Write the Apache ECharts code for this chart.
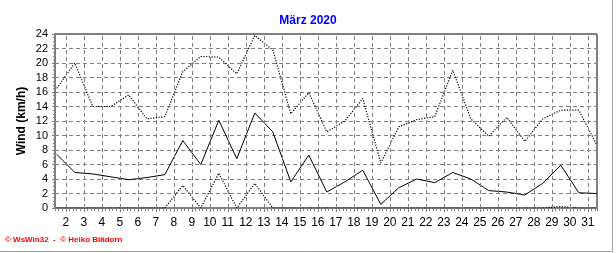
<!DOCTYPE html>
<html><head><meta charset="utf-8">
<script src="https://cdn.jsdelivr.net/npm/echarts@6/dist/echarts.min.js"></script>
<style>html,body{margin:0;padding:0;background:#fff}#c{width:616px;height:253px}</style>
</head><body><div id="c"></div>
<script>
const days = [1,2,3,4,5,6,7,8,9,10,11,12,13,14,15,16,17,18,19,20,21,22,23,24,25,26,27,28,29,30,31];
const dayTickLabels = [2,3,4,5,6,7,8,9,10,11,12,13,14,15,16,17,18,19,20,21,22,23,24,25,26,27,28,29,30,31];
const maxWind = [16.5,20.0,14.0,14.0,15.6,12.3,12.6,18.8,20.9,20.8,18.5,23.8,21.8,13.0,15.9,10.5,12.0,15.1,6.2,11.2,12.2,12.6,19.0,12.3,9.9,12.5,9.2,12.3,13.5,13.5,8.7];
const meanWind = [7.4,4.9,4.7,4.3,3.9,4.2,4.6,9.3,6.0,12.1,6.8,13.1,10.5,3.6,7.3,2.2,3.6,5.2,0.5,2.8,4.0,3.5,4.9,4.0,2.4,2.2,1.8,3.4,5.9,2.1,2.0];
const minWind = [0,0,0,0,0,0,0,3.1,0,4.8,0,3.4,0,0,0,0,0,0,0,0,0,0,0,0,0,0,0,0,0.2,0,0];
const titleText = 'März 2020';
const yAxisName = 'Wind (km/h)';
const footerText = '\u00a9 WsWin32  -  \u00a9 Heiko Blädorn';

const FONT = '"Liberation Sans", Arial, sans-serif';
const GRAY = '#808080';
const chart = echarts.init(document.getElementById('c'), null, {renderer: 'canvas'});
const xMin = 1.4, xMax = 1.4 + 542 / 18;
const pts = arr => arr.map((v, i) => [days[i] + 0.5, v]);
const dotted = {color: '#000', width: 1.2, type: [1.2, 1.5]};

const option = {
  animation: false,
  title: {text: titleText, left: 'center', top: 10, textStyle: {color: '#0000ff', fontSize: 12, fontWeight: 'bold', fontFamily: FONT}},
  grid: {left: 55, top: 34, width: 542, height: 174, show: true, borderColor: '#000', borderWidth: 1, backgroundColor: 'transparent'},
  xAxis: [
    {type: 'value', min: xMin, max: xMax, interval: 0.2, position: 'bottom',
     axisLine: {lineStyle: {color: GRAY, width: 2}},
     axisTick: {length: 3, lineStyle: {color: GRAY}},
     axisLabel: {show: false}, splitLine: {show: false}},
    {type: 'value', min: xMin, max: xMax, position: 'bottom',
     axisLine: {show: false},
     axisTick: {show: true, customValues: dayTickLabels, length: 4, lineStyle: {color: GRAY}},
     axisLabel: {customValues: dayTickLabels, color: '#000', fontSize: 12, fontFamily: FONT, margin: 9},
     splitLine: {show: false}}
  ],
  yAxis: {type: 'value', min: 0, max: 24, interval: 2,
    name: yAxisName, nameLocation: 'middle', nameGap: 27, nameRotate: 90, nameMoveOverlap: false,
    nameTextStyle: {color: '#000', fontSize: 12, fontWeight: 'bold', fontFamily: FONT},
    axisLine: {show: true, lineStyle: {color: GRAY, width: 2}},
    axisTick: {show: true, length: 3, lineStyle: {color: GRAY}},
    minorTick: {show: true, splitNumber: 4, length: 2, lineStyle: {color: GRAY}},
    axisLabel: {color: '#000', fontSize: 11, fontFamily: FONT, margin: 7},
    splitLine: {show: true, lineStyle: {color: GRAY, type: [4, 3], width: 1}}},
  series: [
    {type: 'line', name: 'grid', data: [], xAxisIndex: 0, z: 1, silent: true,
     markLine: {silent: true, symbol: 'none', label: {show: false}, animation: false,
       lineStyle: {color: GRAY, type: [4, 3], width: 1},
       data: dayTickLabels.map(k => ({xAxis: k}))}},
    {type: 'line', name: 'max', data: pts(maxWind), showSymbol: false, z: 3, lineStyle: dotted},
    {type: 'line', name: 'mean', data: pts(meanWind), showSymbol: false, z: 3,
     lineStyle: {color: '#000', width: 1}},
    {type: 'line', name: 'min', data: pts(minWind), showSymbol: false, z: 3, lineStyle: dotted}
  ],
  graphic: [
    {type: 'text', left: 5, top: 236, style: {text: footerText, fill: '#ff0000', font: 'bold 8px ' + FONT}},
    {type: 'line', shape: {x1: 612.5, y1: 0, x2: 612.5, y2: 252}, style: {stroke: '#a0a0a0', lineWidth: 1}},
    {type: 'line', shape: {x1: 0, y1: 251.5, x2: 613, y2: 251.5}, style: {stroke: '#a0a0a0', lineWidth: 1}}
  ]
};
chart.setOption(option);
</script>
</body></html>
